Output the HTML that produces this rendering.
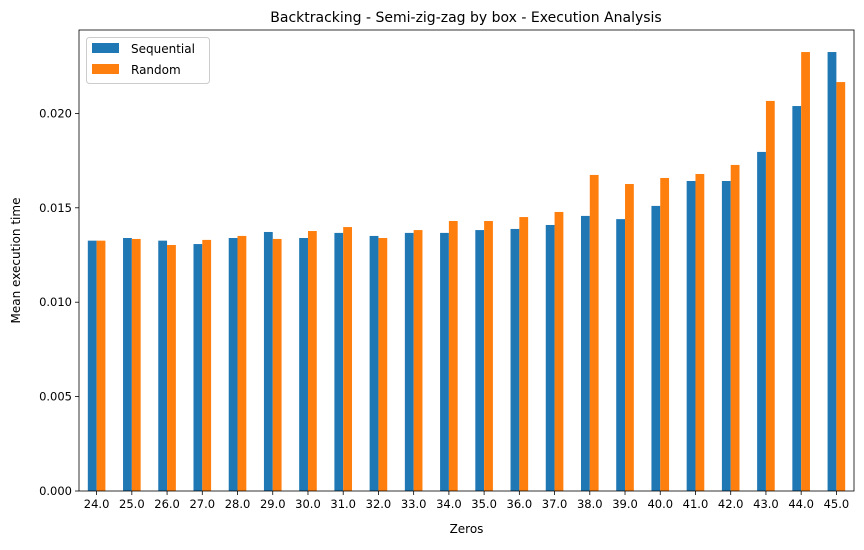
<!DOCTYPE html>
<html><head><meta charset="utf-8"><style>
body{margin:0;background:#fff;}
svg{font-family:"DejaVu Sans","Liberation Sans",sans-serif;}
</style></head><body>
<svg id="chart" width="864" height="545"></svg>
<script>
const categories=["24.0","25.0","26.0","27.0","28.0","29.0","30.0","31.0","32.0","33.0","34.0","35.0","36.0","37.0","38.0","39.0","40.0","41.0","42.0","43.0","44.0","45.0"];
const sequential=[0.01326,0.0134,0.01326,0.01308,0.0134,0.01372,0.0134,0.01367,0.01351,0.01367,0.01367,0.01382,0.01388,0.01409,0.01457,0.0144,0.0151,0.01642,0.01642,0.01796,0.02039,0.02325];
const randomS=[0.01326,0.01335,0.01303,0.0133,0.01351,0.01335,0.01377,0.01398,0.0134,0.01382,0.0143,0.0143,0.01451,0.01478,0.01674,0.01626,0.01658,0.01679,0.01727,0.02066,0.02325,0.02166];
const yTicks=[0,0.005,0.01,0.015,0.02];
const yTickLabels=["0.000","0.005","0.010","0.015","0.020"];
const NS="http://www.w3.org/2000/svg";
const svg=document.getElementById('chart');
const L=79,R=854,T=30,B=491;
const yMax=(B-T)/18880;
const y=v=>B-v/yMax*(B-T);
const gw=(R-L)/categories.length;
const x=i=>L+gw*(i+0.5);
function el(t,a,p){const e=document.createElementNS(NS,t);for(const k in a)e.setAttribute(k,a[k]);(p||svg).appendChild(e);return e;}
const title=el('text',{x:466,y:22,'text-anchor':'middle','font-size':14,fill:'#000'});
title.textContent="Backtracking - Semi-zig-zag by box - Execution Analysis";


const bw=gw*0.25;
categories.forEach((c,i)=>{
 const b1=el('rect',{x:x(i)-bw,y:y(sequential[i]),width:bw,height:B-y(sequential[i]),fill:'#1f77b4'});
 
 
 const b2=el('rect',{x:x(i),y:y(randomS[i]),width:bw,height:B-y(randomS[i]),fill:'#ff7f0e'});
 
 
 el('line',{x1:x(i),x2:x(i),y1:B,y2:B+4,stroke:'#000','stroke-width':0.8});
 const t=el('text',{x:x(i),y:B+17,'text-anchor':'middle','font-size':11.5,fill:'#000'});
 t.textContent=c;
 
 
});
yTicks.forEach((v,i)=>{
 el('line',{x1:L-4,x2:L,y1:y(v),y2:y(v),stroke:'#000','stroke-width':0.8});
 const t=el('text',{x:L-7,y:y(v)+4,'text-anchor':'end','font-size':11.5,fill:'#000'});
 t.textContent=yTickLabels[i];
 
 
});
const frame=el('rect',{x:L,y:T,width:R-L,height:B-T,fill:'none',stroke:'#000','stroke-width':0.8});


const xl=el('text',{x:(L+R)/2,y:533,'text-anchor':'middle','font-size':12,fill:'#000'});
xl.textContent="Zeros";


const yl=el('text',{x:20,y:(T+B)/2,'text-anchor':'middle','font-size':12,fill:'#000',transform:`rotate(-90 20 ${(T+B)/2})`});
yl.textContent="Mean execution time";


const lg=el('g',{});


el('rect',{x:86.5,y:37.5,width:123,height:46,rx:3,fill:'#fff',stroke:'#ccc'},lg);
el('rect',{x:92,y:43,width:27,height:10,fill:'#1f77b4'},lg);
el('rect',{x:92,y:64,width:27,height:10,fill:'#ff7f0e'},lg);
const l1=el('text',{x:131,y:53,'font-size':12,fill:'#000'},lg);l1.textContent="Sequential";


const l2=el('text',{x:131,y:74,'font-size':12,fill:'#000'},lg);l2.textContent="Random";


</script>
</body></html>
